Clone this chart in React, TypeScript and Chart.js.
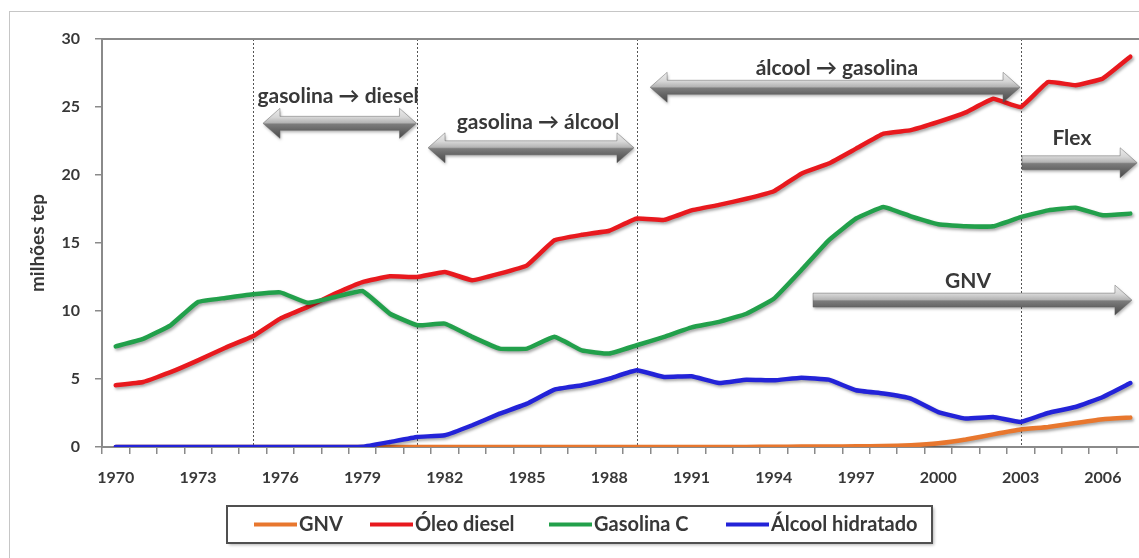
import React, { useEffect, useRef } from 'react';
import { Chart, registerables } from 'chart.js';

Chart.register(...registerables);

const years = [
  1970, 1971, 1972, 1973, 1974, 1975, 1976, 1977, 1978, 1979,
  1980, 1981, 1982, 1983, 1984, 1985, 1986, 1987, 1988, 1989,
  1990, 1991, 1992, 1993, 1994, 1995, 1996, 1997, 1998, 1999,
  2000, 2001, 2002, 2003, 2004, 2005, 2006, 2007,
];

const gnv = [
  0, 0, 0, 0, 0, 0, 0, 0, 0, 0,
  0, 0, 0, 0, 0, 0, 0, 0, 0, 0,
  0, 0, 0, 0, 0.02, 0.03, 0.04, 0.05, 0.07, 0.13,
  0.27, 0.55, 0.93, 1.28, 1.47, 1.76, 2.04, 2.16,
];

const oleoDiesel = [
  4.54, 4.78, 5.5, 6.37, 7.3, 8.14, 9.44, 10.3, 11.28, 12.13,
  12.55, 12.5, 12.87, 12.26, 12.75, 13.36, 15.2, 15.6, 15.9, 16.8,
  16.7, 17.4, 17.8, 18.25, 18.8, 20.1, 20.84, 21.94, 23.04, 23.3,
  23.9, 24.6, 25.6, 25.0, 26.84, 26.6, 27.1, 28.7,
];

const gasolinaC = [
  7.4, 7.95, 8.95, 10.66, 10.96, 11.23, 11.37, 10.6, 11.03, 11.47,
  9.8, 8.95, 9.07, 8.1, 7.23, 7.23, 8.1, 7.1, 6.87, 7.48,
  8.1, 8.8, 9.2, 9.8, 10.9, 13.0, 15.2, 16.8, 17.65, 16.96,
  16.38, 16.23, 16.23, 16.9, 17.4, 17.6, 17.04, 17.16,
];

const alcoolHidratado = [
  0, 0, 0, 0, 0, 0, 0, 0, 0, 0.02,
  0.37, 0.74, 0.86, 1.6, 2.45, 3.19, 4.22, 4.54, 5.03, 5.64,
  5.15, 5.2, 4.7, 4.95, 4.9, 5.1, 4.95, 4.17, 3.93, 3.56,
  2.57, 2.09, 2.2, 1.84, 2.5, 2.94, 3.68, 4.7,
];

const seriesNames = ['GNV', 'Óleo diesel', 'Gasolina C', 'Álcool hidratado'];
const seriesColors = ['#e8772e', '#e8191e', '#22a04b', '#2323d8'];

const yTicks = [0, 5, 10, 15, 20, 25, 30];

// vertical dotted separators (years)
const dividerYears = [1975, 1981, 1989, 2003];

// annotated arrows (years / values)
const arrowLabels = ['gasolina → diesel', 'gasolina → álcool', 'álcool → gasolina', 'Flex', 'GNV'];
const arrowFrom = [1975.37, 1981.39, 1989.49, 2003.05, 1995.43];
const arrowTo = [1980.97, 1988.9, 2002.98, 2007.25, 2007.06];
const arrowY = [23.8, 22.0, 26.45, 20.9, 10.8];
const arrowDouble = [true, true, true, false, false];
const arrowLabelX = [1978.11, 1985.4, 1996.3, 2004.87, 2001.08];
const arrowLabelY = [25.79, 23.85, 27.85, 22.7, 12.18];

const FONT = 'Lato, "Open Sans", sans-serif';
const TEXT = '#383838';

const CW = 1160;
const CH = 580;

function drawArrow(ctx: CanvasRenderingContext2D, x1: number, x2: number, yc: number, dbl: boolean) {
  const sh = 7;
  const hh = 15;
  const hl = 17;
  ctx.beginPath();
  if (dbl) {
    ctx.moveTo(x1, yc);
    ctx.lineTo(x1 + hl, yc - hh);
    ctx.lineTo(x1 + hl, yc - sh);
  } else {
    ctx.moveTo(x1, yc - sh);
  }
  ctx.lineTo(x2 - hl, yc - sh);
  ctx.lineTo(x2 - hl, yc - hh);
  ctx.lineTo(x2, yc);
  ctx.lineTo(x2 - hl, yc + hh);
  ctx.lineTo(x2 - hl, yc + sh);
  if (dbl) {
    ctx.lineTo(x1 + hl, yc + sh);
    ctx.lineTo(x1 + hl, yc + hh);
  } else {
    ctx.lineTo(x1, yc + sh);
  }
  ctx.closePath();
  const g = ctx.createLinearGradient(0, yc - hh, 0, yc + hh);
  g.addColorStop(0, '#ececec');
  g.addColorStop(0.3, '#d6d6d6');
  g.addColorStop(0.48, '#b4b4b4');
  g.addColorStop(0.53, '#7c7c7c');
  g.addColorStop(0.75, '#636363');
  g.addColorStop(1, '#4a4a4a');
  ctx.save();
  ctx.shadowColor = 'rgba(0,0,0,0.3)';
  ctx.shadowBlur = 3;
  ctx.shadowOffsetX = 1;
  ctx.shadowOffsetY = 2;
  ctx.fillStyle = g;
  ctx.fill();
  ctx.restore();
  ctx.save();
  ctx.strokeStyle = 'rgba(90,90,90,0.55)';
  ctx.lineWidth = 0.8;
  ctx.stroke();
  ctx.restore();
}

const decorPlugin = {
  id: 'decor',
  beforeDatasetsDraw(chart: any) {
    const { ctx, chartArea, scales } = chart;
    const x = scales.x;
    const p0 = x.getPixelForValue(0);
    const step = x.getPixelForValue(1) - p0;
    ctx.save();
    ctx.strokeStyle = '#555';
    ctx.lineWidth = 1;
    ctx.setLineDash([2, 2]);
    dividerYears.forEach((yr) => {
      const px = Math.round(p0 + (yr - years[0]) * step) + 0.5;
      ctx.beginPath();
      ctx.moveTo(px, chartArea.top);
      ctx.lineTo(px, chartArea.bottom);
      ctx.stroke();
    });
    ctx.restore();
  },
  beforeDatasetDraw(chart: any) {
    const ctx = chart.ctx;
    ctx.save();
    ctx.shadowColor = 'rgba(0,0,0,0.35)';
    ctx.shadowBlur = 3;
    ctx.shadowOffsetX = 1.5;
    ctx.shadowOffsetY = 2;
  },
  afterDatasetDraw(chart: any) {
    chart.ctx.restore();
  },
  afterDraw(chart: any) {
    const { ctx, chartArea, scales } = chart;
    const x = scales.x;
    const y = scales.y;
    const p0 = x.getPixelForValue(0);
    const step = x.getPixelForValue(1) - p0;
    const xp = (yr: number) => p0 + (yr - years[0]) * step;

    // top border of plot area
    ctx.save();
    ctx.strokeStyle = '#8a8a8a';
    ctx.lineWidth = 2;
    ctx.beginPath();
    ctx.moveTo(chartArea.left, chartArea.top);
    ctx.lineTo(chartArea.right, chartArea.top);
    ctx.stroke();
    ctx.restore();

    // arrows
    arrowLabels.forEach((lab, i) => {
      drawArrow(ctx, xp(arrowFrom[i]), xp(arrowTo[i]), y.getPixelForValue(arrowY[i]), arrowDouble[i]);
      ctx.save();
      ctx.fillStyle = TEXT;
      ctx.font = `bold 21px ${FONT}`;
      ctx.textAlign = 'center';
      ctx.textBaseline = 'middle';
      ctx.fillText(lab, xp(arrowLabelX[i]), y.getPixelForValue(arrowLabelY[i]));
      ctx.restore();
    });

    // legend box
    ctx.save();
    ctx.shadowColor = 'rgba(0,0,0,0.3)';
    ctx.shadowBlur = 3;
    ctx.shadowOffsetX = 2;
    ctx.shadowOffsetY = 2;
    ctx.fillStyle = '#fff';
    ctx.fillRect(227, 506, 705, 37);
    ctx.restore();
    ctx.save();
    ctx.strokeStyle = '#505050';
    ctx.lineWidth = 2;
    ctx.strokeRect(227, 506, 705, 37);
    const itemX = [254, 370, 549, 726];
    const ly = 524.5;
    chart.data.datasets.forEach((ds: any, i: number) => {
      ctx.strokeStyle = ds.borderColor;
      ctx.lineWidth = 4;
      ctx.beginPath();
      ctx.moveTo(itemX[i], ly);
      ctx.lineTo(itemX[i] + 43, ly);
      ctx.stroke();
      ctx.fillStyle = TEXT;
      ctx.font = `bold 20px ${FONT}`;
      ctx.textAlign = 'left';
      ctx.textBaseline = 'middle';
      ctx.fillText(ds.label, itemX[i] + 45, ly);
    });
    ctx.restore();

    // outer frame
    ctx.save();
    ctx.strokeStyle = '#c6c6c6';
    ctx.lineWidth = 1;
    ctx.strokeRect(9.5, 11.5, CW, CH);
    ctx.restore();
  },
};

export default function App() {
  const canvasRef = useRef<HTMLCanvasElement | null>(null);

  useEffect(() => {
    if (!canvasRef.current) return;
    const values = [gnv, oleoDiesel, gasolinaC, alcoolHidratado];
    const chart = new Chart(canvasRef.current, {
      type: 'line',
      data: {
        labels: years.map(String),
        datasets: values.map((v, i) => ({
          label: seriesNames[i],
          data: v,
          borderColor: seriesColors[i],
          backgroundColor: seriesColors[i],
          borderWidth: 4.5,
          pointRadius: 0,
          tension: 0.1,
          borderJoinStyle: 'round' as const,
          borderCapStyle: 'round' as const,
          fill: false,
          order: 4 - i,
        })),
      },
      options: {
        responsive: false,
        animation: false,
        layout: { padding: { top: 39, left: 0, right: 16, bottom: 0 } },
        plugins: {
          legend: { display: false },
          tooltip: { enabled: false },
        },
        scales: {
          x: {
            type: 'category',
            offset: true,
            afterFit: (s: any) => { s.height = CH - 447; },
            grid: {
              drawOnChartArea: false,
              drawTicks: true,
              tickLength: 7,
              color: '#8a8a8a',
              lineWidth: 1.5,
              offset: true,
            },
            border: { color: '#8a8a8a', width: 2 },
            ticks: {
              autoSkip: false,
              maxRotation: 0,
              padding: 14,
              color: TEXT,
              font: { family: FONT, size: 16, weight: 'bold' },
              callback: (_v: any, idx: number) => (idx % 3 === 0 ? String(years[idx]) : ''),
            },
          },
          y: {
            min: yTicks[0],
            max: yTicks[yTicks.length - 1],
            afterFit: (s: any) => { s.width = 102; },
            afterBuildTicks: (s: any) => { s.ticks = yTicks.map((v) => ({ value: v })); },
            grid: {
              drawOnChartArea: false,
              drawTicks: true,
              tickLength: 7,
              color: '#8a8a8a',
              lineWidth: 1.5,
            },
            border: { color: '#8a8a8a', width: 2 },
            ticks: {
              padding: 15,
              color: TEXT,
              font: { family: FONT, size: 16, weight: 'bold' },
            },
            title: {
              display: true,
              text: 'milhões tep',
              color: TEXT,
              font: { family: FONT, size: 19, weight: 'bold' },
              padding: { top: 26, bottom: 0 },
            },
          },
        },
      },
      plugins: [decorPlugin],
    });
    return () => chart.destroy();
  }, []);

  return (
    <div
      style={{
        position: 'absolute',
        left: 0,
        top: 0,
        width: 1139,
        height: 558,
        overflow: 'hidden',
        background: '#fff',
      }}
    >
      <canvas ref={canvasRef} width={CW} height={CH} style={{ display: 'block' }} />
    </div>
  );
}
